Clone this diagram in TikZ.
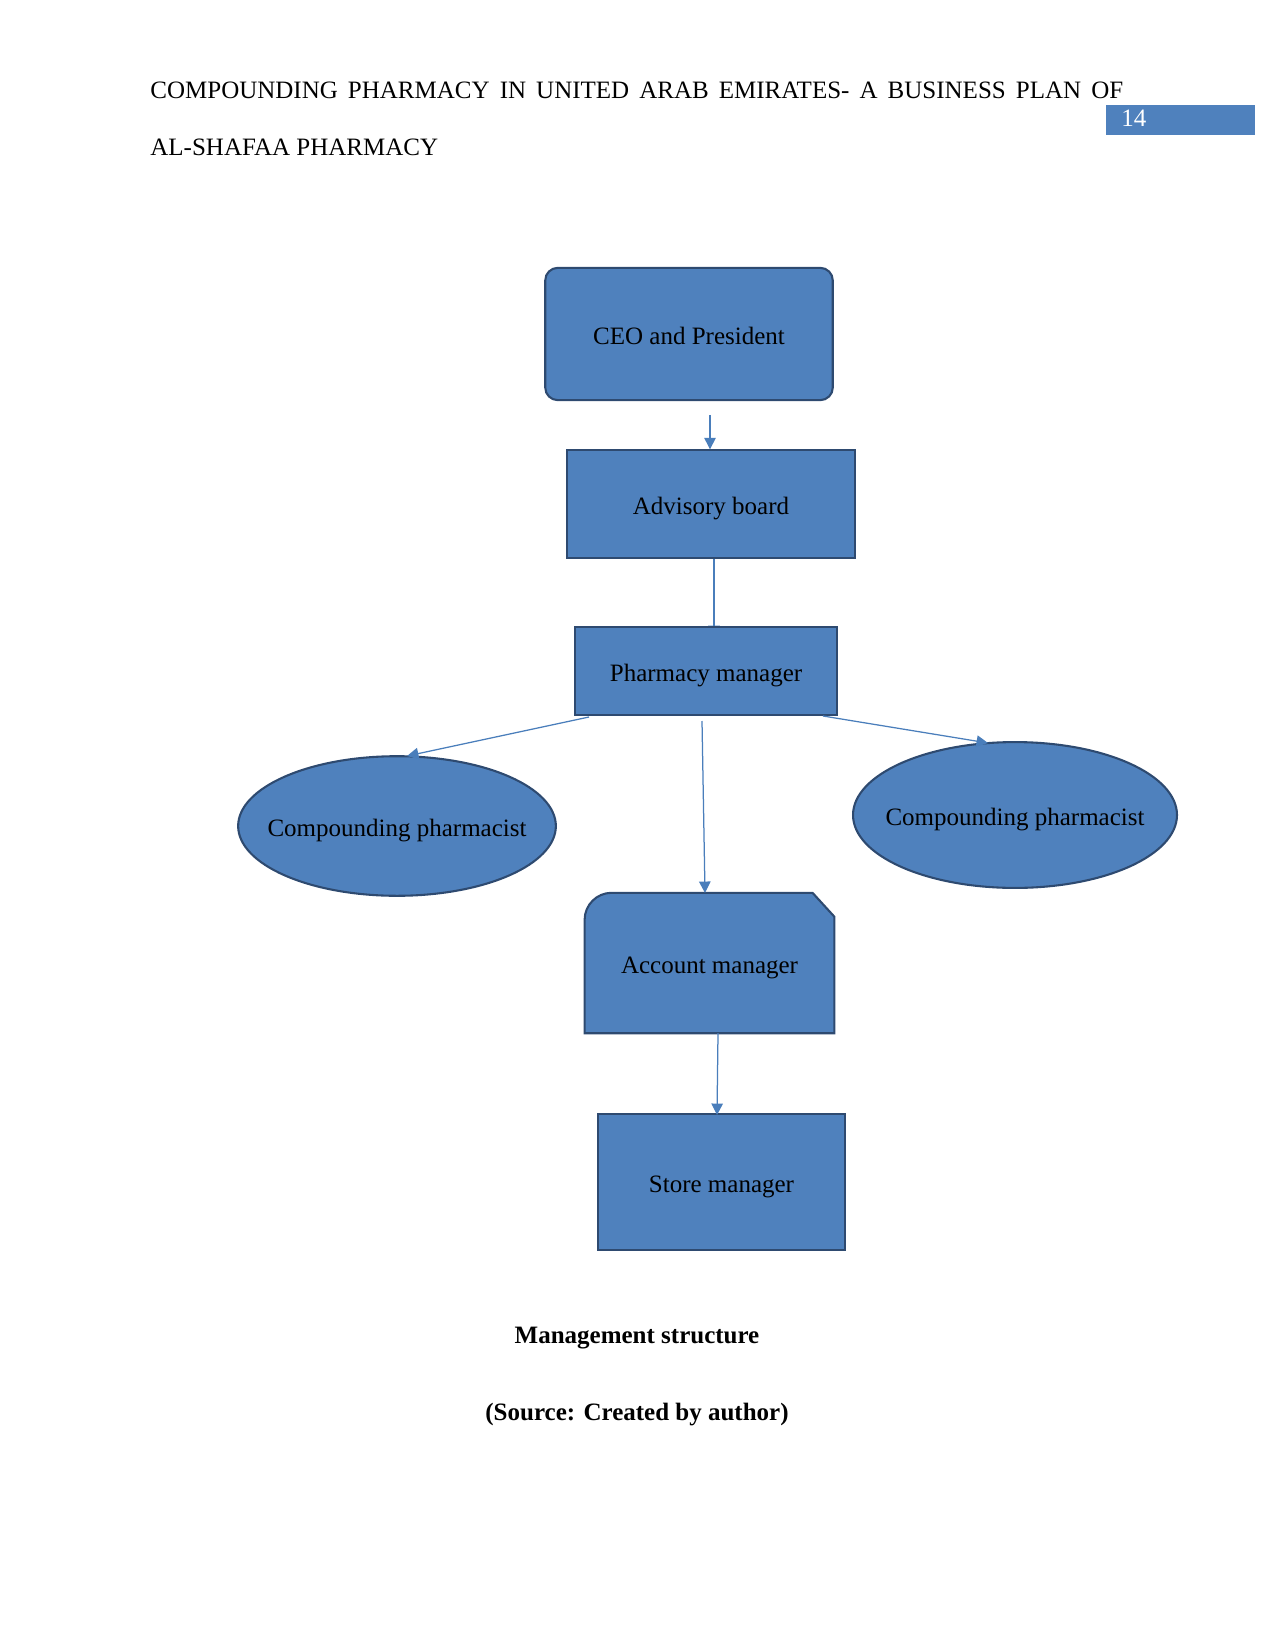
\documentclass[tikz,border=0pt]{standalone}
\usepackage{fontspec}
\setmainfont{Liberation Serif}
\usetikzlibrary{arrows.meta,shapes.geometric,backgrounds}
\definecolor{boxfill}{HTML}{4F81BD}
\definecolor{boxline}{HTML}{2E4A70}
\definecolor{arrowc}{HTML}{4A7EBB}
\tikzset{
  x=0.48pt, y=-0.48pt,
  box/.style={draw=boxline, fill=boxfill, line width=1pt, inner sep=0pt, font=\fontsize{12}{14}\selectfont, text=black, text height=12pt, text depth=2.3pt},
  oval/.style={box, ellipse},
  conn/.style={draw=arrowc, line width=0.6pt, -{Triangle[length=5.5pt,width=5.5pt]}},
  txt/.style={inner sep=0pt, font=\fontsize{12}{14}\selectfont, text=black},
  lbl/.style={txt, text height=12pt, text depth=2.3pt}
}
\begin{document}
\begin{tikzpicture}
\useasboundingbox (0,0) rectangle (1275,1650);
% header
\node[txt, anchor=base west] (h1) at (150,99) {\makebox[467pt][s]{COMPOUNDING PHARMACY IN UNITED ARAB EMIRATES- A BUSINESS PLAN OF}};
\node[txt, anchor=base west] (h2) at (150,156) {AL-SHAFAA PHARMACY};
\node[fill=boxfill, minimum width=71.5pt, minimum height=14pt, inner sep=0pt, anchor=north west] (pg) at (1106,105) {};
\node[txt, text=white, anchor=base west] (pgn) at (1121,127) {14};
% nodes
\node[box, rounded corners=6pt, minimum width=138pt, minimum height=63.5pt] (ceo) at (689,334) {CEO and President};
\node[box, minimum width=138pt, minimum height=51.5pt] (adv) at (711,504) {Advisory board};
\node[box, minimum width=126pt, minimum height=42pt] (pm) at (706,671) {Pharmacy manager};
\node[oval, minimum width=152.5pt, minimum height=67pt] (cpl) at (397,826) {};
\node[lbl] (cplt) at (cpl) {Compounding pharmacist};
\node[oval, minimum width=155.5pt, minimum height=70pt] (cpr) at (1015,815) {};
\node[lbl] (cprt) at (cpr) {Compounding pharmacist};
\node[txt, minimum width=119.5pt, minimum height=67pt] (acc) at (709.5,963) {};
\fill[boxfill, draw=boxline, line width=1pt]
  (acc.south west) -- ([yshift=-13pt]acc.north west) arc[start angle=180, end angle=90, radius=13pt]
  -- ([xshift=-10.5pt]acc.north east) -- ([yshift=-11.5pt]acc.north east) -- (acc.south east) -- cycle;
\node[lbl] (acct) at (acc) {Account manager};
\node[box, minimum width=118.5pt, minimum height=65pt] (sm) at (721.5,1182) {Store manager};
% connectors
\coordinate (c1) at (710,415);
\draw[conn] (c1) -- (adv.north -| c1);
\coordinate (c2) at (714,558);
\coordinate (e2) at (714,637);
\begin{pgfonlayer}{background}
\draw[conn] (c2) -- (e2);
\end{pgfonlayer}
\coordinate (c3) at (589,717);
\coordinate (e3) at (407,756);
\draw[conn] (c3) -- (e3);
\coordinate (c4) at (823,716);
\coordinate (e4) at (988,743);
\draw[conn] (c4) -- (e4);
\coordinate (c5) at (702,721);
\coordinate (e5) at (705,893);
\draw[conn] (c5) -- (e5);
\coordinate (c6) at (718,1033);
\draw[conn] (c6) -- (717,1115);
% caption
\node[txt, font=\fontsize{12}{14}\selectfont\bfseries] (cap1) at (637,1338) {Management structure};
\node[txt, font=\fontsize{12}{14}\selectfont\bfseries] (cap2) at (637,1415) {(Source: Created by author)};
\end{tikzpicture}
\end{document}
